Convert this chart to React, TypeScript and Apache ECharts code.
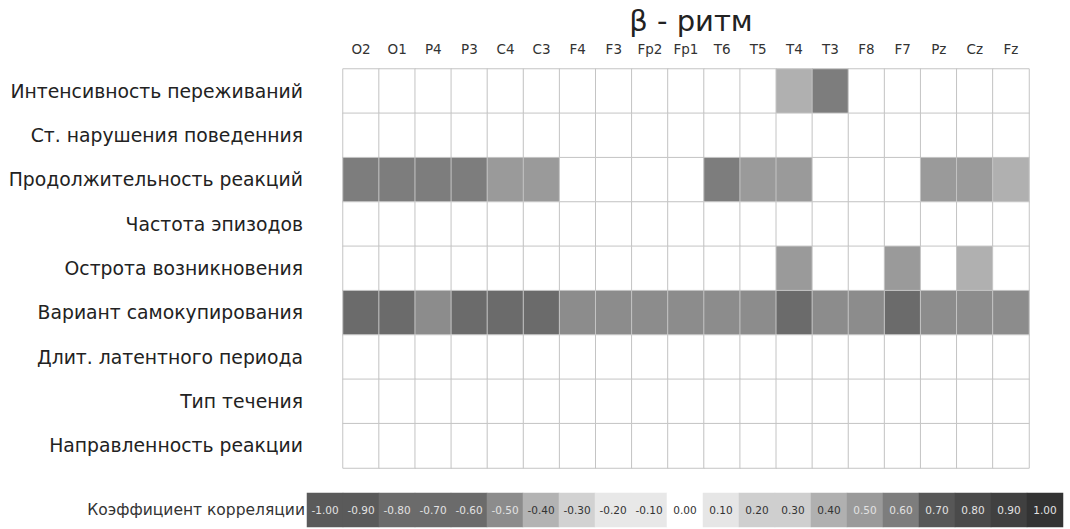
import React, { useEffect, useRef } from "react";
import * as echarts from "echarts";

const columns = ["O2", "O1", "P4", "P3", "C4", "C3", "F4", "F3", "Fp2", "Fp1", "T6", "T5", "T4", "T3", "F8", "F7", "Pz", "Cz", "Fz"];
const rows = [
  "Интенсивность переживаний",
  "Ст. нарушения поведенния",
  "Продолжительность реакций",
  "Частота эпизодов",
  "Острота возникновения",
  "Вариант самокупирования",
  "Длит. латентного периода",
  "Тип течения",
  "Направленность реакции",
];
const rowIntensity = [0, 0, 0, 0, 0, 0, 0, 0, 0, 0, 0, 0, 0.4, 0.6, 0, 0, 0, 0, 0];
const rowBehaviour = [0, 0, 0, 0, 0, 0, 0, 0, 0, 0, 0, 0, 0, 0, 0, 0, 0, 0, 0];
const rowDuration = [0.6, 0.6, 0.6, 0.6, 0.5, 0.5, 0, 0, 0, 0, 0.6, 0.5, 0.5, 0, 0, 0, 0.5, 0.5, 0.4];
const rowFrequency = [0, 0, 0, 0, 0, 0, 0, 0, 0, 0, 0, 0, 0, 0, 0, 0, 0, 0, 0];
const rowAcuteness = [0, 0, 0, 0, 0, 0, 0, 0, 0, 0, 0, 0, 0.5, 0, 0, 0.5, 0, 0.4, 0];
const rowSelfStop = [-0.7, -0.7, -0.5, -0.7, -0.7, -0.7, -0.5, -0.5, -0.5, -0.5, -0.5, -0.5, -0.7, -0.5, -0.5, -0.7, -0.5, -0.5, -0.5];
const rowLatent = [0, 0, 0, 0, 0, 0, 0, 0, 0, 0, 0, 0, 0, 0, 0, 0, 0, 0, 0];
const rowCourse = [0, 0, 0, 0, 0, 0, 0, 0, 0, 0, 0, 0, 0, 0, 0, 0, 0, 0, 0];
const rowDirection = [0, 0, 0, 0, 0, 0, 0, 0, 0, 0, 0, 0, 0, 0, 0, 0, 0, 0, 0];
const matrix = [rowIntensity, rowBehaviour, rowDuration, rowFrequency, rowAcuteness, rowSelfStop, rowLatent, rowCourse, rowDirection];

const legendValues = [-1, -0.9, -0.8, -0.7, -0.6, -0.5, -0.4, -0.3, -0.2, -0.1, 0, 0.1, 0.2, 0.3, 0.4, 0.5, 0.6, 0.7, 0.8, 0.9, 1];
const legendColors = [
  "#5a5a5a", "#5a5a5a", "#6b6b6b", "#6b6b6b", "#6b6b6b", "#8c8c8c", "#b3b3b3", "#d2d2d2", "#e8e8e8", "#e8e8e8",
  "#ffffff", "#e6e6e6", "#cfcfcf", "#cfcfcf", "#b0b0b0", "#9a9a9a", "#7d7d7d", "#575757", "#4a4a4a", "#404040", "#333333",
];
const legendTitle = "Коэффициент корреляции";
const title = "β - ритм";

export default function App() {
  const ref = useRef<HTMLDivElement>(null);
  useEffect(() => {
    if (!ref.current) return;
    const chart = echarts.init(ref.current, undefined, { renderer: "svg" });
    const cellData: any[] = [];
    matrix.forEach((row, r) => row.forEach((v, c) => cellData.push([c, r, v])));
    const legendData = legendValues.map((v, i) => {
      const hex = legendColors[i];
      const lum = parseInt(hex.slice(1, 3), 16);
      return { value: [i, 0, v], label: { color: lum < 0xa0 ? "#e2e2e2" : "#333" } };
    });
    const font = "'DejaVu Sans', Arial, sans-serif";
    chart.setOption({
      animation: false,
      backgroundColor: "#ffffff",
      title: {
        text: title,
        left: 686,
        top: 1,
        textAlign: "center",
        textStyle: { fontSize: 29, fontWeight: "normal", color: "#222", fontFamily: "'DejaVu Sans', sans-serif" },
      },
      visualMap: {
        show: false,
        type: "piecewise",
        seriesIndex: [0, 1],
        dimension: 2,
        pieces: legendValues.map((v, i) => ({ min: v - 0.05, max: v + 0.05, color: legendColors[i] })),
      },
      grid: [
        { left: 343, right: 41, top: 69, height: 399 },
        { left: 307, right: 7, top: 493, height: 34 },
      ],
      xAxis: [
        {
          type: "category",
          gridIndex: 0,
          data: columns,
          position: "top",
          axisLine: { show: false },
          axisTick: { show: false },
          splitLine: { show: false },
          axisLabel: { fontSize: 13.5, color: "#333", margin: 13, fontFamily: font, interval: 0 },
        },
        {
          type: "category",
          gridIndex: 1,
          data: legendValues.map((v) => v.toFixed(2)),
          show: false,
        },
      ],
      yAxis: [
        {
          type: "category",
          gridIndex: 0,
          data: rows,
          inverse: true,
          axisLine: { show: false },
          axisTick: { show: false },
          splitLine: { show: false },
          axisLabel: { fontSize: 18.8, color: "#222", margin: 40, fontFamily: font, interval: 0, padding: [8, 0, 0, 0] },
        },
        {
          type: "category",
          gridIndex: 1,
          data: [legendTitle],
          axisLine: { show: false },
          axisTick: { show: false },
          axisLabel: { fontSize: 15.5, color: "#333", margin: 2, fontFamily: font },
        },
      ],
      series: [
        {
          type: "heatmap",
          xAxisIndex: 0,
          yAxisIndex: 0,
          data: cellData,
          itemStyle: { borderColor: "#c4c4c4", borderWidth: 1 },
          label: { show: false },
          emphasis: { disabled: true },
        },
        {
          type: "heatmap",
          xAxisIndex: 1,
          yAxisIndex: 1,
          data: legendData,
          itemStyle: { borderWidth: 0 },
          label: {
            show: true,
            fontSize: 10.5,
            fontFamily: font,
            formatter: (p: any) => Number(p.value[2]).toFixed(2),
          },
          emphasis: { disabled: true },
        },
      ],
    });
    return () => chart.dispose();
  }, []);
  return <div ref={ref} style={{ position: "fixed", left: 0, top: 0, width: 1070, height: 529 }} />;
}
